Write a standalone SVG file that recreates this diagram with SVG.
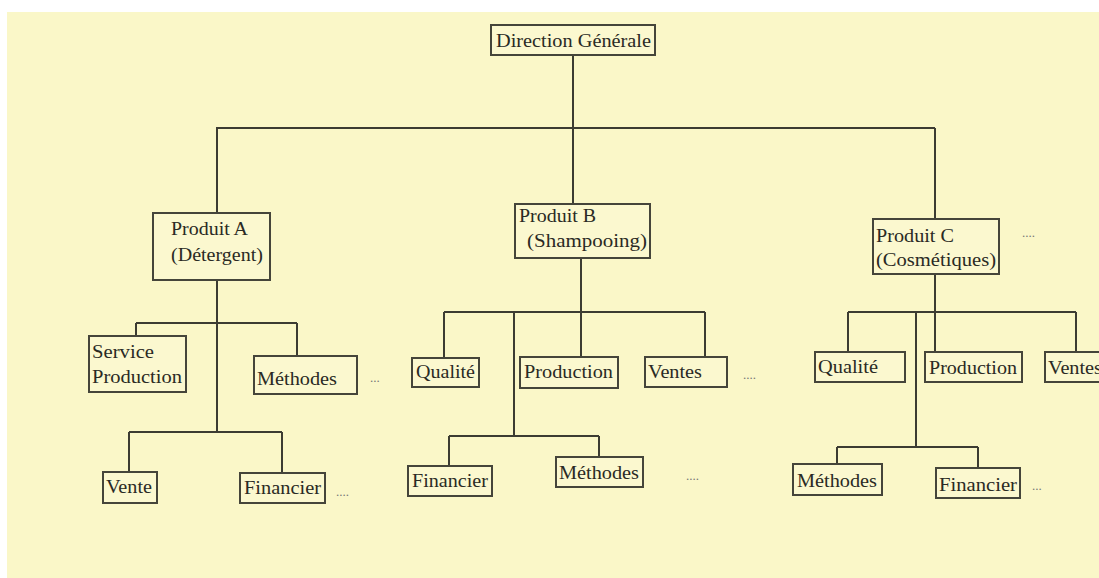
<svg xmlns="http://www.w3.org/2000/svg" width="1099" height="578" viewBox="0 0 1099 578">
<style>
.box{fill:#fbf8cf;stroke:#45453a;stroke-width:2}
.t{font-family:"Liberation Serif","Times New Roman",serif;font-size:18px;fill:#2a2a24}
.d{font-family:"Liberation Serif","Times New Roman",serif;font-size:13px;fill:#777}
.c{stroke:#3c3c32;stroke-width:2;fill:none}
</style>
<rect x="0" y="0" width="1099" height="578" fill="#ffffff"/>
<rect x="7" y="12" width="1092" height="566" fill="#faf7c8"/>
<g id="connectors" class="c">
<path d="M573 55V128M216 128H935M217 128V213M573 128V204M935 128V219"/>
<path d="M217 280V432M136 323H297M136 323V336M297 323V356M129 432H282M129 432V472M282 432V473"/>
<path d="M581 258V357M444 312H705M444 312V358M705 312V357M514 312V436M449 436H599M449 436V466M599 436V457"/>
<path d="M935 274V352M848 312H1076M848 312V352M1076 312V352M916 312V447M837 447H978M837 447V464M978 447V468"/>
</g>
<g id="direction">
<rect class="box" x="491" y="25" width="164" height="30"/>
<text class="t" x="496" y="47" textLength="155" lengthAdjust="spacingAndGlyphs">Direction Générale</text>
</g>
<g id="produitA">
<rect class="box" x="153" y="213" width="117" height="67"/>
<text class="t" x="171" y="235" textLength="77" lengthAdjust="spacingAndGlyphs">Produit A</text>
<text class="t" x="171" y="261" textLength="92" lengthAdjust="spacingAndGlyphs">(Détergent)</text>
</g>
<g id="produitB">
<rect class="box" x="515" y="204" width="135" height="54"/>
<text class="t" x="519" y="222" textLength="77" lengthAdjust="spacingAndGlyphs">Produit B</text>
<text class="t" x="527" y="247" textLength="120" lengthAdjust="spacingAndGlyphs">(Shampooing)</text>
</g>
<g id="produitC">
<rect class="box" x="873" y="219" width="126" height="55"/>
<text class="t" x="876" y="242" textLength="78" lengthAdjust="spacingAndGlyphs">Produit C</text>
<text class="t" x="876" y="266" textLength="120" lengthAdjust="spacingAndGlyphs">(Cosmétiques)</text>
</g>
<text class="d" x="1022" y="237">....</text>
<g id="serviceProductionA">
<rect class="box" x="89" y="336" width="97" height="56"/>
<text class="t" x="92" y="358" textLength="62" lengthAdjust="spacingAndGlyphs">Service</text>
<text class="t" x="92" y="383" textLength="90" lengthAdjust="spacingAndGlyphs">Production</text>
</g>
<g id="methodesA">
<rect class="box" x="254" y="356" width="103" height="38"/>
<text class="t" x="257" y="385" textLength="80" lengthAdjust="spacingAndGlyphs">Méthodes</text>
</g>
<text class="d" x="370" y="382">...</text>
<g id="venteA">
<rect class="box" x="103" y="472" width="54" height="31"/>
<text class="t" x="106" y="493" textLength="46" lengthAdjust="spacingAndGlyphs">Vente</text>
</g>
<g id="financierA">
<rect class="box" x="240" y="473" width="85" height="30"/>
<text class="t" x="244" y="494" textLength="77" lengthAdjust="spacingAndGlyphs">Financier</text>
</g>
<text class="d" x="336" y="496">....</text>
<g id="qualiteB">
<rect class="box" x="412" y="358" width="67" height="29"/>
<text class="t" x="416" y="378" textLength="59" lengthAdjust="spacingAndGlyphs">Qualité</text>
</g>
<g id="productionB">
<rect class="box" x="520" y="357" width="98" height="31"/>
<text class="t" x="524" y="378" textLength="89" lengthAdjust="spacingAndGlyphs">Production</text>
</g>
<g id="ventesB">
<rect class="box" x="645" y="357" width="82" height="30"/>
<text class="t" x="648" y="378" textLength="54" lengthAdjust="spacingAndGlyphs">Ventes</text>
</g>
<text class="d" x="743" y="379">....</text>
<g id="financierB">
<rect class="box" x="408" y="466" width="84" height="30"/>
<text class="t" x="412" y="487" textLength="76" lengthAdjust="spacingAndGlyphs">Financier</text>
</g>
<g id="methodesB">
<rect class="box" x="556" y="457" width="87" height="30"/>
<text class="t" x="559" y="479" textLength="80" lengthAdjust="spacingAndGlyphs">Méthodes</text>
</g>
<text class="d" x="686" y="480">....</text>
<g id="qualiteC">
<rect class="box" x="815" y="352" width="90" height="30"/>
<text class="t" x="818" y="373" textLength="60" lengthAdjust="spacingAndGlyphs">Qualité</text>
</g>
<g id="productionC">
<rect class="box" x="925" y="352" width="97" height="30"/>
<text class="t" x="929" y="374" textLength="88" lengthAdjust="spacingAndGlyphs">Production</text>
</g>
<g id="ventesC">
<rect class="box" x="1045" y="352" width="70" height="30"/>
<text class="t" x="1048" y="374" textLength="54" lengthAdjust="spacingAndGlyphs">Ventes</text>
</g>
<g id="methodesC">
<rect class="box" x="793" y="464" width="89" height="31"/>
<text class="t" x="797" y="487" textLength="80" lengthAdjust="spacingAndGlyphs">Méthodes</text>
</g>
<g id="financierC">
<rect class="box" x="936" y="468" width="84" height="30"/>
<text class="t" x="939" y="491" textLength="78" lengthAdjust="spacingAndGlyphs">Financier</text>
</g>
<text class="d" x="1032" y="490">...</text>
</svg>
